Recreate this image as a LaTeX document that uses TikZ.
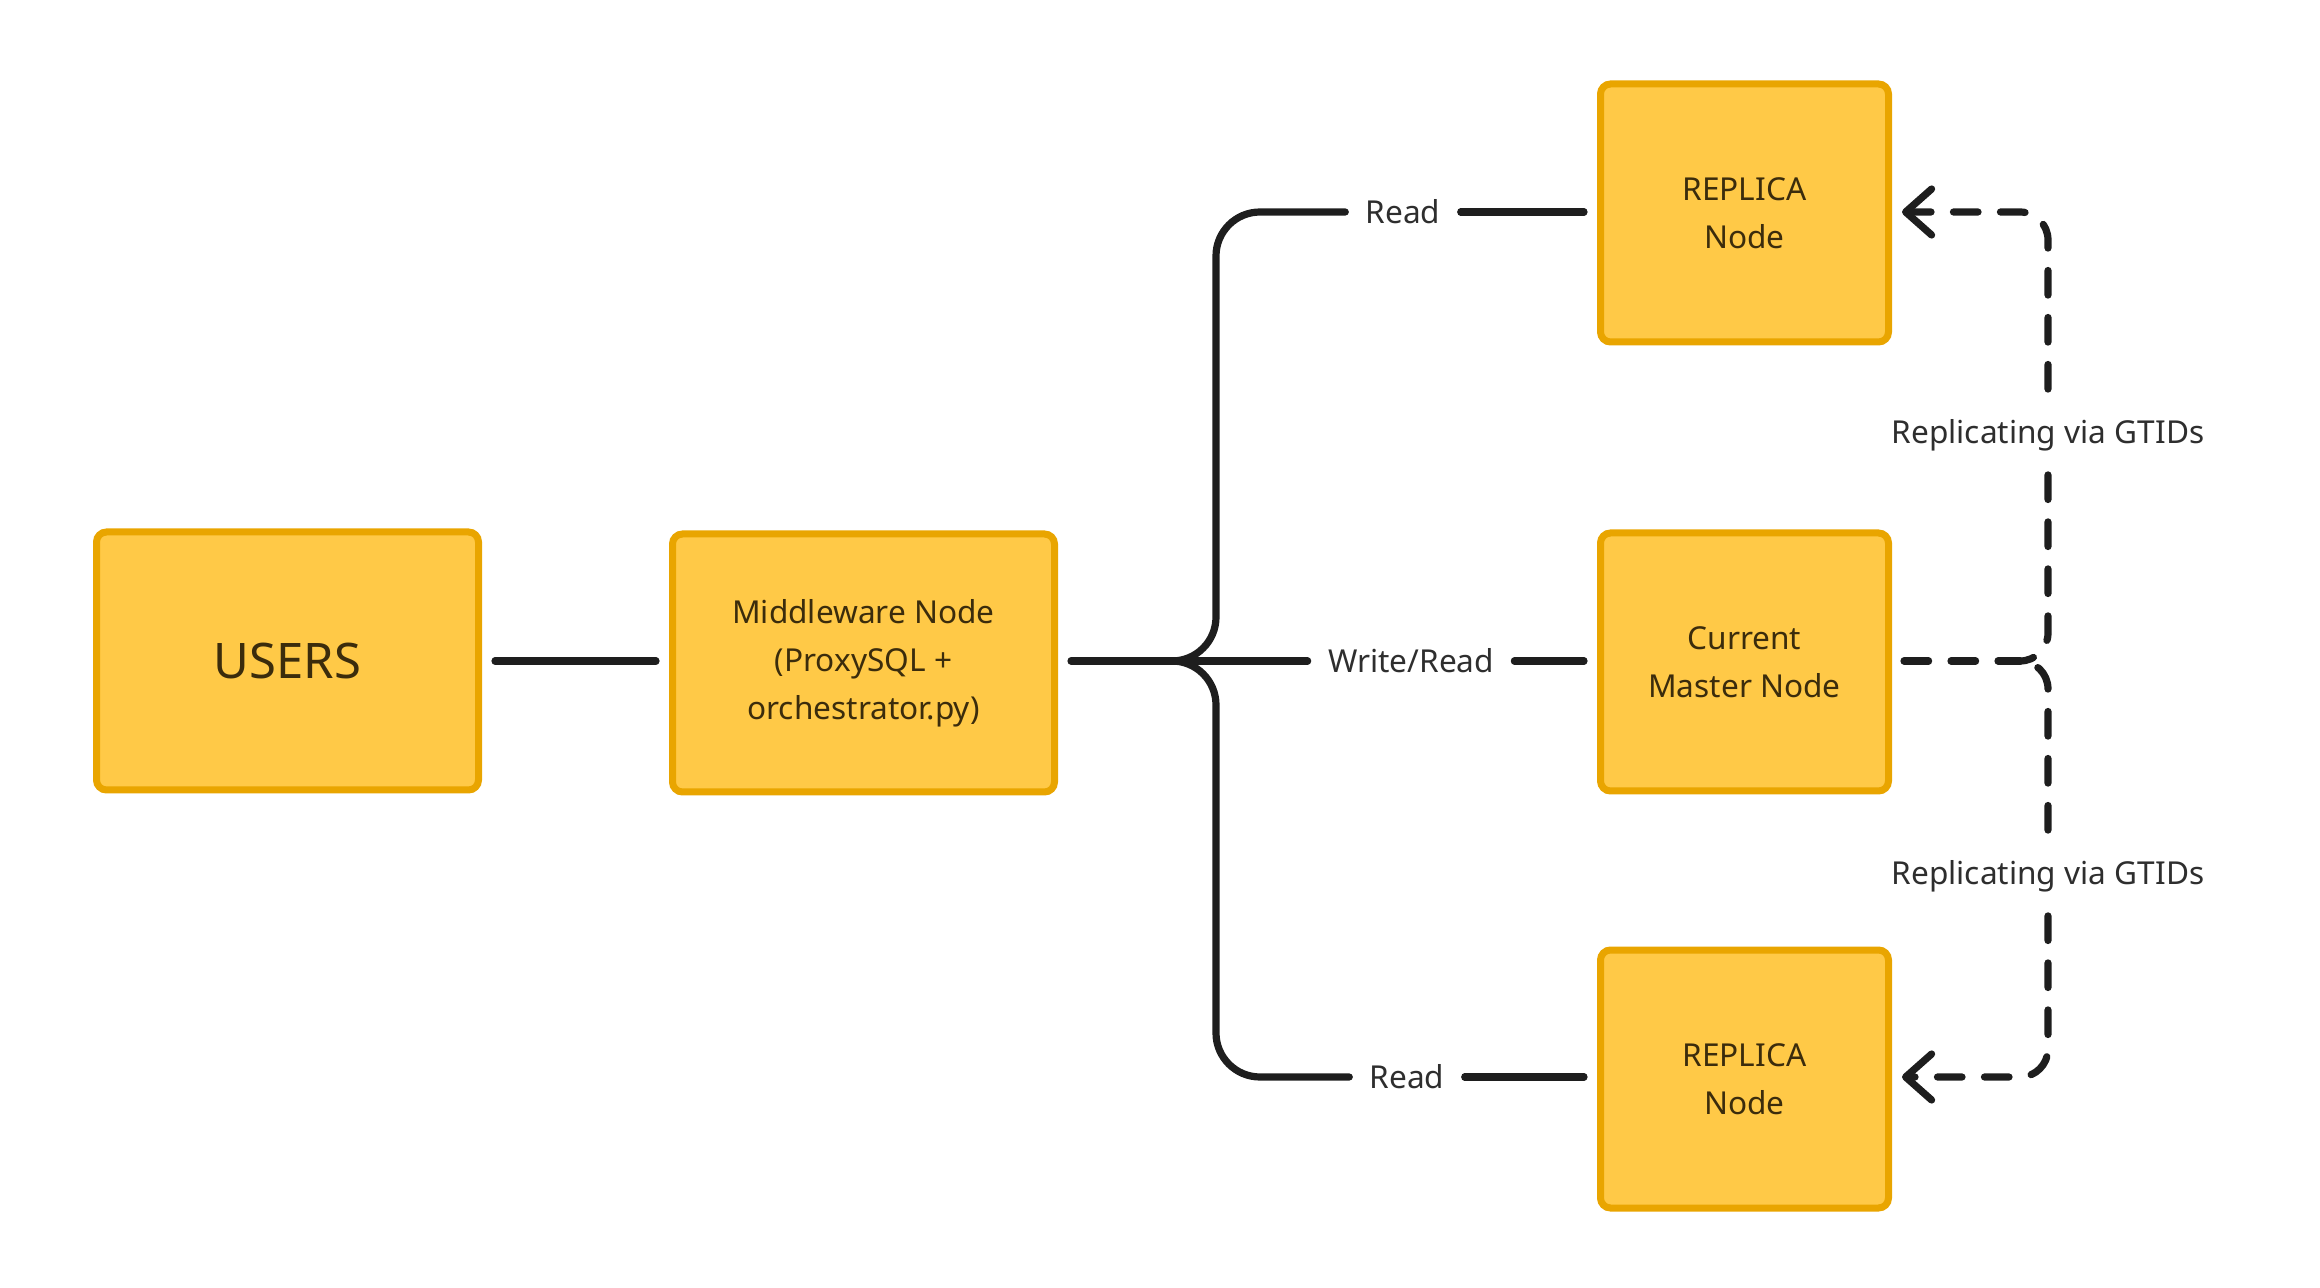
\documentclass[tikz,border=0pt]{standalone}
\usepackage{fontspec}
\setmainfont{Noto Sans}
\usetikzlibrary{arrows.meta}
\definecolor{boxfill}{HTML}{FFC947}
\definecolor{boxline}{HTML}{E9A500}
\definecolor{ink}{HTML}{1E1E1E}
\definecolor{boxtext}{HTML}{3B2C0C}
\definecolor{lbltext}{HTML}{2E2E2E}
\begin{document}
\begin{tikzpicture}[x=0.5pt,y=-0.5pt,
  dbnode/.style={draw=boxline,fill=boxfill,line width=3.5pt,rounded corners=5pt,minimum height=129pt,align=center,text=boxtext,font=\fontsize{15.8}{24}\selectfont},
  wide/.style={dbnode,minimum width=191pt},
  narrow/.style={dbnode,minimum width=144pt},
  lbl/.style={text=lbltext,font=\fontsize{15.8}{19}\selectfont,inner xsep=10pt,inner ysep=2pt,text height=11.3pt,text depth=0pt},
  gtid/.style={lbl,inner xsep=2pt,inner ysep=15.6pt},
  link/.style={draw=ink,line width=3.6pt,line cap=round,rounded corners=22pt},
  repl/.style={link,rounded corners=14pt,dash pattern=on 12.3pt off 11.2pt},
  barb/.style={-{Straight Barb[length=13pt,width=23pt,round]},shorten >=5pt}]
\useasboundingbox (0,0) rectangle (2320,1288);
\node[wide,font=\fontsize{24.5}{30}\selectfont] (usr) at (287.5,661) {USERS};
\node[wide] (mid) at (863.5,663) {Middleware Node\\(ProxySQL +\\orchestrator.py)};
\node[narrow] (repA) at (1744.5,213) {REPLICA\\Node};
\node[narrow] (mst) at (1744.5,662) {Current\\Master Node};
\node[narrow] (repB) at (1744.5,1079) {REPLICA\\Node};
\node[lbl] (rdA) at (1403,212) {Read};
\node[lbl] (wr) at (1411,661) {Write/Read};
\node[lbl] (rdB) at (1407,1077) {Read};
\node[gtid] (gtA) at (2048,432) {Replicating via GTIDs};
\node[gtid] (gtB) at (2048,873) {Replicating via GTIDs};
\coordinate (fkA) at (1172,661);
\coordinate (brk) at (1216,661);
\coordinate (fkB) at (2020,661);
\coordinate (rcol) at (2048,661);
\draw[link,shorten <=6.5pt,shorten >=6.5pt] (usr) -- (mid.west |- usr);
\draw[link,shorten <=6.5pt] (mid.east |- wr) -- (wr.west);
\draw[link,shorten >=6.5pt] (wr.east) -- (mst.west |- wr);
\draw[link] (fkA) -- (brk) |- (rdA.west);
\draw[link] (fkA) -- (brk) |- (rdB.west);
\draw[link,shorten >=6.5pt] (rdA.east) -- (repA.west |- rdA);
\draw[link,shorten >=6.5pt] (rdB.east) -- (repB.west |- rdB);
\draw[repl,shorten <=6pt] (mst.east |- fkB) -- (fkB);
\draw[repl] (gtA.south) -- (rcol) -- (fkB);
\draw[repl] (gtB.north) -- (rcol) -- (fkB);
\draw[repl,barb] (gtA.north) |- (repA.east |- rdA);
\draw[repl,barb] (gtB.south) |- (repB.east |- rdB);
\end{tikzpicture}
\end{document}
